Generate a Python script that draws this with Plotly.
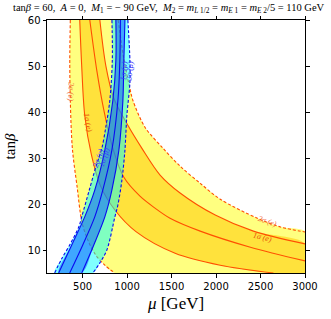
import plotly.graph_objects as go

# ---- axis data ----
X_RANGE = [100, 3000]
Y_RANGE = [5, 60]
X_TICKS = [500, 1000, 1500, 2000, 2500, 3000]
Y_TICKS = [10, 20, 30, 40, 50, 60]

# ---- electron g-2 contours (mu [GeV], tan beta) ----
e2_in_mu = [362, 356, 362, 385, 440, 492, 558, 648, 750, 863]
e2_in_tb = [60, 51.2, 42.5, 32.1, 23.5, 16.1, 12.2, 8.9, 6.7, 5.0]

e1_in_mu = [468, 490, 524, 600, 700, 863, 1100, 1540, 2047, 2645]
e1_in_tb = [60, 50, 39.3, 30.6, 24.0, 18.7, 14.0, 9.3, 6.7, 5.0]

ec_mu = [581, 660, 739, 840, 964, 1145, 1314, 1483, 1822, 2386, 3006]
ec_tb = [60, 49.0, 40.4, 32.1, 25.8, 21.7, 19.1, 16.9, 14.1, 10.6, 7.6]

e1_out_mu = [694, 761, 851, 1009, 1167, 1371, 1596, 1991, 2420, 3006]
e1_out_tb = [60, 50.1, 43.0, 37.1, 32.1, 26.3, 22.4, 17.6, 14.1, 11.3]

e2_out_mu = [900, 960, 1032, 1066, 1201, 1405, 1597, 1822, 2047, 2464, 2725, 3006]
e2_out_tb = [60, 52, 45.1, 42.5, 36.7, 32.1, 28.2, 24.5, 21.05, 16.9, 15.0, 13.9]

# ---- muon g-2 contours ----
m2_l_mu = [830, 834, 806, 761, 716, 648, 569, 490, 457, 355, 265, 186]
m2_l_tb = [60, 51.2, 42.5, 36.7, 32.1, 28.0, 22.6, 17.2, 15.0, 11.1, 8.1, 5.0]

m1_l_mu = [874, 874, 840, 750, 637, 524, 378, 231]
m1_l_tb = [60, 51.2, 42.5, 31.7, 23.0, 17.2, 11.1, 5.0]

mc_mu = [925, 919, 897, 829, 727, 637, 502, 355]
mc_tb = [60, 51.2, 42.5, 31.7, 23.0, 17.2, 11.1, 5.0]

m1_r_mu = [976, 964, 953, 908, 829, 750, 626, 491]
m1_r_tb = [60, 51.2, 42.5, 31.7, 23.0, 17.2, 11.1, 5.0]

m2_r_mu = [1009, 1032, 1032, 998, 976, 942, 897, 863, 773, 694, 615]
m2_r_tb = [60, 51.2, 46.4, 39.3, 31.7, 25.2, 19.8, 17.2, 10.0, 7.2, 5.0]

# ---- labels ----
lab_text = ["2σ (e)", "1σ (e)", "2σ (e)", "1σ (e)", "1σ (μ)", "2σ (μ)", "2σ (μ)", "1σ (μ)"]
lab_mu = [372, 564, 2582, 2527, 964, 1032, 671, 739]
lab_tb = [44.5, 37.8, 16.3, 12.8, 49.0, 49.0, 30.0, 30.2]
lab_ang = [92, 80, 20, 14, -84, -84, -72, -72]
lab_col = ["#F06A3C", "#E8500A", "#F06A3C", "#E8500A", "#3B3BFF", "#3B3BFF", "#3B3BFF", "#3B3BFF"]

LIGHT_Y = "#FFFF80"
DARK_Y = "#FFE23C"
ORANGE = "#FF4F00"
BLUE = "#0A0AF0"
SMOOTH = 0.9

fig = go.Figure()

# light yellow 2-sigma band
poly_x = e2_in_mu + [X_RANGE[1]] + e2_out_mu[::-1]
poly_y = e2_in_tb + [Y_RANGE[0]] + e2_out_tb[::-1]
fig.add_trace(go.Scatter(x=poly_x, y=poly_y, fill="toself", fillcolor=LIGHT_Y,
                         mode="lines", line=dict(width=0, shape="spline", smoothing=SMOOTH),
                         hoverinfo="skip"))
# dark yellow 1-sigma band
poly_x = e1_in_mu + [X_RANGE[1]] + e1_out_mu[::-1]
poly_y = e1_in_tb + [Y_RANGE[0]] + e1_out_tb[::-1]
fig.add_trace(go.Scatter(x=poly_x, y=poly_y, fill="toself", fillcolor=DARK_Y,
                         mode="lines", line=dict(width=0, shape="spline", smoothing=SMOOTH),
                         hoverinfo="skip"))

# orange lines
for xs, ys, dash in [(e2_in_mu, e2_in_tb, "3px,2px"), (e2_out_mu, e2_out_tb, "3px,2px"),
                     (e1_in_mu, e1_in_tb, "solid"), (ec_mu, ec_tb, "solid"),
                     (e1_out_mu, e1_out_tb, "solid")]:
    fig.add_trace(go.Scatter(x=xs, y=ys, mode="lines",
                             line=dict(color=ORANGE, width=1.1, dash=dash,
                                       shape="spline", smoothing=SMOOTH),
                             hoverinfo="skip"))

# blue bands (semi-transparent)
fig.add_trace(go.Scatter(x=m2_l_mu + m2_r_mu[::-1], y=m2_l_tb + m2_r_tb[::-1], fill="toself",
                         fillcolor="rgba(0,255,255,0.5)", mode="lines",
                         line=dict(width=0, shape="spline", smoothing=SMOOTH), hoverinfo="skip"))
fig.add_trace(go.Scatter(x=m1_l_mu + m1_r_mu[::-1], y=m1_l_tb + m1_r_tb[::-1], fill="toself",
                         fillcolor="rgba(0,80,255,0.5)", mode="lines",
                         line=dict(width=0, shape="spline", smoothing=SMOOTH), hoverinfo="skip"))

for xs, ys, dash in [(m2_l_mu, m2_l_tb, "3px,2px"), (m2_r_mu, m2_r_tb, "3px,2px"),
                     (m1_l_mu, m1_l_tb, "solid"), (mc_mu, mc_tb, "solid"),
                     (m1_r_mu, m1_r_tb, "solid")]:
    fig.add_trace(go.Scatter(x=xs, y=ys, mode="lines",
                             line=dict(color=BLUE, width=1.1, dash=dash,
                                       shape="spline", smoothing=SMOOTH),
                             hoverinfo="skip"))

for t, x, y, a, c in zip(lab_text, lab_mu, lab_tb, lab_ang, lab_col):
    fig.add_annotation(x=x, y=y, text=f"<i>{t}</i>", showarrow=False, textangle=a,
                       font=dict(family="Liberation Serif", size=8, color=c))

title = ("tan<i>β</i> = 60,  <i>A</i> = 0,  <i>M</i><sub>1</sub> = − 90 GeV,  "
         "<i>M</i><sub>2</sub> = <i>m</i><sub><i>L</i> 1/2</sub> = <i>m</i><sub><i>E</i> 1</sub>"
         " = <i>m</i><sub><i>E</i> 2</sub>/5 = 110 GeV")
fig.add_annotation(x=(169 - 47) / 258, y=1 + 12 / 253, xref="paper", yref="paper", text=title,
                   showarrow=False, xanchor="center", yanchor="middle",
                   font=dict(family="Liberation Serif", size=10.5, color="black"))

axis_common = dict(showline=True, linecolor="black", linewidth=1, mirror="allticks",
                   ticks="outside", ticklen=3.5, tickwidth=0.8, tickcolor="black",
                   showgrid=False, zeroline=False, automargin=False,
                   tickfont=dict(family="DejaVu Sans", size=10, color="black"))

fig.update_layout(
    width=331, height=319,
    margin=dict(l=47, r=26, t=20, b=46),
    paper_bgcolor="white", plot_bgcolor="white",
    showlegend=False,
    xaxis=dict(range=X_RANGE, tickvals=X_TICKS,
               title=dict(text="<i>μ</i> [GeV]", standoff=6,
                          font=dict(family="Liberation Serif", size=17, color="black")),
               **axis_common),
    yaxis=dict(range=Y_RANGE, tickvals=Y_TICKS,
               title=dict(text="tan<i>β</i>", standoff=8,
                          font=dict(family="Liberation Serif", size=15, color="black")),
               **axis_common),
)

fig.write_html("out.html", config={"displayModeBar": False},
               post_script="document.body.style.margin='0px';")
